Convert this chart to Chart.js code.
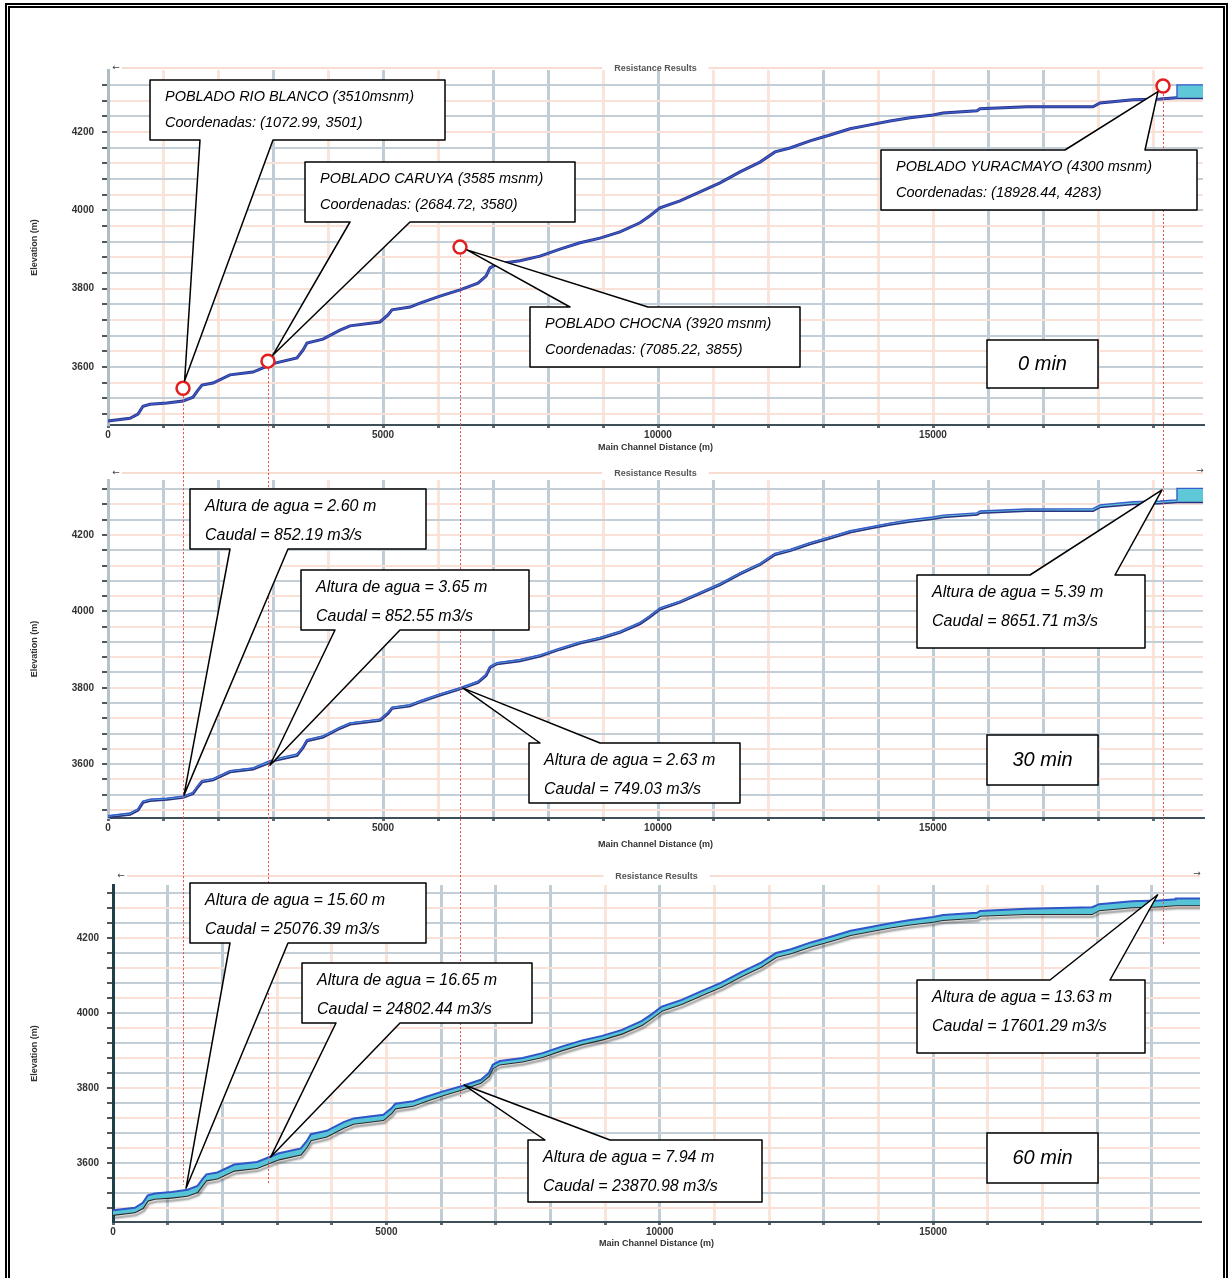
<!DOCTYPE html>
<html><head><meta charset="utf-8">
<script src="https://cdn.jsdelivr.net/npm/chart.js@4.4.1/dist/chart.umd.min.js"></script>
<style>
html,body{margin:0;padding:0;background:#fff;}
#wrap{position:relative;width:1229px;height:1278px;overflow:hidden;background:#fff;}
#wrap canvas{position:absolute;left:0;}
#frame{position:absolute;left:5px;top:3px;width:1213px;height:1300px;border:5px double #000;border-bottom:none;box-sizing:content-box;}
</style></head><body>
<div id="wrap">
<canvas id="c1" width="1229" height="455" style="top:0px"></canvas>
<canvas id="c2" width="1229" height="403" style="top:455px"></canvas>
<canvas id="c3" width="1229" height="420" style="top:858px"></canvas>
<canvas id="ov" width="1229" height="1278" style="top:0px"></canvas>
<div id="frame"></div>
</div>
<script>
// ---------------- DATA ----------------
const distance = [0, 400, 545, 636, 764, 1073, 1364, 1545, 1636, 1709, 1909, 2218, 2636, 2909, 3036, 3436, 3545, 3618, 3909, 4218, 4400, 4945, 5091, 5164, 5491, 5673, 6036, 6400, 6727, 6873, 6945, 7073, 7491, 7855, 8218, 8582, 8945, 9309, 9673, 9855, 10036, 10400, 10764, 11127, 11491, 11855, 12127, 12400, 12764, 13127, 13491, 13855, 14218, 14582, 15000, 15182, 15800, 15855, 16709, 17909, 18036, 18636, 19127, 19436, 19436, 19909];
const bedElev = [3462, 3469, 3480, 3500, 3505, 3508, 3513, 3523, 3541, 3554, 3559, 3580, 3587, 3603, 3610, 3623, 3643, 3661, 3671, 3694, 3705, 3715, 3733, 3746, 3753, 3763, 3781, 3797, 3814, 3832, 3853, 3863, 3871, 3883, 3901, 3917, 3929, 3945, 3968, 3986, 4006, 4024, 4047, 4070, 4098, 4123, 4149, 4159, 4177, 4192, 4208, 4218, 4228, 4236, 4243, 4248, 4254, 4259, 4264, 4264, 4274, 4282, 4284, 4287, 4287, 4287];
const ws0 = [3462, 3469, 3480, 3500, 3505, 3508, 3513, 3523, 3541, 3554, 3559, 3580, 3587, 3603, 3610, 3623, 3643, 3661, 3671, 3694, 3705, 3715, 3733, 3746, 3753, 3763, 3781, 3797, 3814, 3832, 3853, 3863, 3871, 3883, 3901, 3917, 3929, 3945, 3968, 3986, 4006, 4024, 4047, 4070, 4098, 4123, 4149, 4159, 4177, 4192, 4208, 4218, 4228, 4236, 4243, 4248, 4254, 4259, 4264, 4264, 4274, 4282, 4284, 4287, 4320, 4320];
const ws30 = [3465, 3472, 3483, 3503, 3508, 3511, 3516, 3526, 3544, 3557, 3562, 3583, 3590, 3607, 3614, 3627, 3646, 3664, 3674, 3697, 3708, 3718, 3736, 3749, 3756, 3766, 3784, 3800, 3817, 3835, 3856, 3866, 3874, 3886, 3904, 3920, 3932, 3948, 3971, 3989, 4009, 4027, 4050, 4073, 4101, 4126, 4152, 4162, 4180, 4195, 4211, 4221, 4231, 4240, 4247, 4252, 4258, 4263, 4268, 4269, 4279, 4287, 4289, 4292, 4322, 4322];
const ws60 = [3474, 3481, 3494, 3514, 3519, 3523, 3529, 3539, 3557, 3570, 3575, 3596, 3603, 3619, 3626, 3639, 3659, 3677, 3686, 3709, 3719, 3729, 3746, 3758, 3765, 3774, 3791, 3806, 3822, 3840, 3862, 3872, 3880, 3893, 3911, 3927, 3939, 3955, 3979, 3997, 4017, 4035, 4058, 4081, 4109, 4134, 4160, 4170, 4188, 4203, 4219, 4229, 4239, 4248, 4256, 4261, 4267, 4272, 4278, 4282, 4290, 4298, 4300, 4303, 4305, 4305];

const xTickLabels = [0, 5000, 10000, 15000];
const yTickLabels = [3600, 3800, 4000, 4200];

const stationDist = [1364, 2909, 6400, 19182];
const stationElev = [3546, 3615, 3906, 4317];
const stationTitle = ['POBLADO RIO BLANCO (3510msnm)', 'POBLADO CARUYA (3585 msnm)', 'POBLADO CHOCNA (3920 msnm)', 'POBLADO YURACMAYO (4300 msnm)'];
const stationCoords = ['Coordenadas: (1072.99, 3501)', 'Coordenadas: (2684.72, 3580)', 'Coordenadas: (7085.22, 3855)', 'Coordenadas: (18928.44, 4283)'];

const tip30Dist = [1382, 2945, 6455, 19164];
const tip30Elev = [3519, 3597, 3799, 4318];
const depth30 = ['2.60', '3.65', '2.63', '5.39'];
const flow30 = ['852.19', '852.55', '749.03', '8651.71'];

const tip60Dist = [1336, 2883, 6423, 19106];
const tip60Elev = [3533, 3616, 3808, 4315];
const depth60 = ['15.60', '16.65', '7.94', '13.63'];
const flow60 = ['25076.39', '24802.44', '23870.98', '17601.29'];

const timeLabels = ['0 min', '30 min', '60 min'];
const plotTitle = 'Resistance Results';
const xTitle = 'Main Channel Distance (m)';
const yTitle = 'Elevation (m)';

// ---------------- LAYOUT / STYLE ----------------
const BLUE = '#bfcdd7', ORNG = '#fbe4da';
const X_STEP = 1000, Y_STEP = 40;
const panels = [
  {id:'c1', top:0,   H:455, padTop:70, padRight:26, yW:108, xH:30, xTitlePad:2,  xMax:19909, yMin:3452, yMax:4358,
   vpat:'boobobobbobooboobbo'+'o', yBorder:'#aebcc6', ws:ws0, lineColor:'#2c3184', wsColor:'#3a5ccc', fillCol:'#5ec8d8', shadow:false},
  {id:'c2', top:455, H:403, padTop:25, padRight:26, yW:108, xH:40, xTitlePad:8,  xMax:19909, yMin:3459, yMax:4344,
   vpat:'bbbbobobbobbobbbbbbo', yBorder:'#b4c2cb', ws:ws30, lineColor:'#2c3184', wsColor:'#3a5ccc', fillCol:'#5ec8d8', shadow:false},
  {id:'c3', top:858, H:420, padTop:27, padRight:29, yW:113, xH:56, xTitlePad:29, xMax:19880, yMin:3443, yMax:4341,
   vpat:'bbbooobbbobooboboobb', yBorder:'#1f3f49', ws:ws60, lineColor:'#2a2a2a', wsColor:'#2f56c8', fillCol:'#56c4d6', shadow:true}
];

const callouts1 = [
  {box:[150,80,295,60],  side:'bottom', base:[200,273]},
  {box:[305,162,270,60], side:'bottom', base:[350,410]},
  {box:[530,307,270,60], side:'top',    base:[570,648]},
  {box:[881,150,316,60], side:'top',    base:[1065,1145]}
];
const callouts2 = [
  {box:[190,489,236,60], side:'bottom', base:[230,288]},
  {box:[301,570,228,60], side:'bottom', base:[335,400]},
  {box:[529,743,211,60], side:'top',    base:[540,600]},
  {box:[917,575,228,73], side:'top',    base:[1030,1115]}
];
const callouts3 = [
  {box:[190,883,236,60],  side:'bottom', base:[230,288]},
  {box:[302,963,230,60],  side:'bottom', base:[336,400]},
  {box:[528,1140,234,62], side:'top',    base:[545,610]},
  {box:[917,980,228,73],  side:'top',    base:[1050,1110]}
];
const timeBoxes = [[987,340,111,48],[987,735,111,50],[987,1133,111,50]];
const dottedEnd = [1185, 1185, 1097, 945];

function pts(ys){ return distance.map((d,i)=>({x:d, y:ys[i]})); }
function stepTicks(scale, step){
  const t = [];
  const start = Math.ceil(scale.min/step)*step;
  for (let v = start; v <= scale.max; v += step) t.push({value:v});
  scale.ticks = t;
}

const panelPlugin = {
  id:'panelDeco',
  beforeDatasetDraw(chart, args){
    const p = chart.options.plugins.panelDeco;
    if (p.shadow && args.meta.label === 'bed') {
      chart.ctx.save();
      chart.ctx.shadowColor = 'rgba(60,60,60,0.55)';
      chart.ctx.shadowOffsetY = 3; chart.ctx.shadowOffsetX = 1; chart.ctx.shadowBlur = 2;
    }
  },
  afterDatasetDraw(chart, args){
    const p = chart.options.plugins.panelDeco;
    if (p.shadow && args.meta.label === 'bed') chart.ctx.restore();
  },
  afterDraw(chart){
    const ctx = chart.ctx, a = chart.chartArea;
    const y = a.top - (chart.options.plugins.panelDeco.lineOff);
    ctx.save();
    ctx.font = 'bold 9px "Liberation Sans"';
    const tw = ctx.measureText(plotTitle).width;
    const cx = (a.left + a.right)/2;
    ctx.strokeStyle = '#f3b9a3'; ctx.lineWidth = 1.2;
    ctx.beginPath(); ctx.moveTo(a.left + 14, y); ctx.lineTo(cx - tw/2 - 12, y);
    ctx.moveTo(cx + tw/2 + 12, y); ctx.lineTo(a.right, y); ctx.stroke();
    ctx.fillStyle = '#555'; ctx.textAlign = 'center'; ctx.textBaseline = 'middle';
    ctx.fillText(plotTitle, cx, y + 1);
    ctx.font = '9px "DejaVu Sans"'; ctx.fillStyle = '#444';
    ctx.fillText('\u2190', a.left + 8, y);
    if (chart.options.plugins.panelDeco.rightArrow) ctx.fillText('\u2192', a.right - 3, y - 2);
    ctx.restore();
  }
};

const charts = panels.map((p, idx) => {
  const datasets = [];
  if (idx === 0) {
    datasets.push({label:'stations', data: stationDist.map((d,i)=>({x:d, y:stationElev[i]})), showLine:false,
      pointRadius:6.5, pointBorderWidth:2.5, pointBorderColor:'#e31e1e', pointBackgroundColor:'#ffffff'});
  }
  datasets.push({label:'ws', data: pts(p.ws), borderColor:p.wsColor, borderWidth: idx===2?2:1.4, pointRadius:0, tension:0,
    fill:'+1', backgroundColor:p.fillCol});
  datasets.push({label:'bed', data: pts(bedElev), borderColor:p.lineColor, borderWidth: idx===2?2.2:3, pointRadius:0, tension:0, fill:false});
  return new Chart(document.getElementById(p.id), {
    type:'line',
    data:{datasets},
    plugins:[panelPlugin],
    options:{
      responsive:false, animation:false, devicePixelRatio:1,
      layout:{padding:{left:0, right:p.padRight, top:p.padTop, bottom:0}},
      plugins:{legend:{display:false}, tooltip:{enabled:false},
        panelDeco:{shadow:p.shadow, lineOff: idx===0?2:(idx===1?7:9), rightArrow: idx>0}},
      scales:{
        x:{type:'linear', min:0, max:p.xMax,
          afterBuildTicks:s=>stepTicks(s, X_STEP),
          afterFit:s=>{s.height = p.xH;},
          border:{color:'#3f4f5a', width:2},
          grid:{drawOnChartArea:true, lineWidth:3, tickLength:3, tickColor:'#5a6b76',
            color:c=>{ const v=c.tick.value; if (v%1000!==0) return 'rgba(0,0,0,0)'; return p.vpat[v/1000]==='b'?BLUE:ORNG; }},
          ticks:{autoSkip:false, maxRotation:0, padding:1, color:'#333',
            font:{family:'Liberation Sans', size:10, weight:'bold'},
            callback:v=> xTickLabels.includes(v) ? String(v) : ''},
          title:{display:true, text:xTitle, color:'#333', font:{family:'Liberation Sans', size:9, weight:'bold'},
            padding:{top:0, bottom:p.xTitlePad}}
        },
        y:{type:'linear', min:p.yMin, max:p.yMax,
          afterBuildTicks:s=>stepTicks(s, Y_STEP),
          afterFit:s=>{s.width = p.yW;},
          border:{color:p.yBorder, width:3},
          grid:{lineWidth:2, tickLength:6, tickColor:'#555',
            color:c=>{ const v=c.tick.value; return (v%80===0)?'#c3ced6':'#f9e1d7'; }},
          ticks:{autoSkip:false, padding:8, color:'#333',
            font:{family:'Liberation Sans', size:10, weight:'bold'},
            callback:v=> yTickLabels.includes(v) ? String(v) : ''},
          title:{display:true, text:yTitle, color:'#333', font:{family:'Liberation Sans', size:9, weight:'bold'},
            padding:{top:29, bottom:0}}
        }
      }
    }
  });
});

// ---------------- OVERLAY: dotted guides, callouts ----------------
const ov = document.getElementById('ov').getContext('2d');
function px(ci, d, e){
  const ch = charts[ci];
  return {x: ch.scales.x.getPixelForValue(d), y: ch.scales.y.getPixelForValue(e) + panels[ci].top};
}
ov.save();
ov.strokeStyle = '#e8484a'; ov.lineWidth = 1; ov.setLineDash([2,2]);
stationDist.forEach((d,i)=>{
  const p = px(0, d, stationElev[i]);
  ov.beginPath(); ov.moveTo(Math.round(p.x)+0.5, p.y + 8); ov.lineTo(Math.round(p.x)+0.5, dottedEnd[i]); ov.stroke();
});
ov.restore();

function callout(c, tip, lines, font, offs, shrink){
  const [x,y,w,h] = c.box; const [b1,b2] = c.base;
  let t = {x:tip.x, y:tip.y};
  if (shrink) {
    const mx = (b1+b2)/2, my = c.side==='bottom' ? y+h : y;
    const dx = mx - t.x, dy = my - t.y, L = Math.hypot(dx,dy);
    t = {x: t.x + dx/L*shrink, y: t.y + dy/L*shrink};
  }
  ov.save();
  ov.beginPath();
  if (c.side === 'bottom') {
    ov.moveTo(x,y); ov.lineTo(x+w,y); ov.lineTo(x+w,y+h); ov.lineTo(b2,y+h); ov.lineTo(t.x,t.y); ov.lineTo(b1,y+h); ov.lineTo(x,y+h); ov.closePath();
  } else {
    ov.moveTo(x,y); ov.lineTo(b1,y); ov.lineTo(t.x,t.y); ov.lineTo(b2,y); ov.lineTo(x+w,y); ov.lineTo(x+w,y+h); ov.lineTo(x,y+h); ov.closePath();
  }
  ov.fillStyle = '#fff'; ov.fill();
  ov.lineJoin = 'round'; ov.lineWidth = 1.5; ov.strokeStyle = '#000'; ov.stroke();
  ov.fillStyle = '#000'; ov.font = font; ov.textAlign = 'left'; ov.textBaseline = 'middle';
  ov.fillText(lines[0], x + 15, y + offs[0]);
  ov.fillText(lines[1], x + 15, y + offs[1]);
  ov.restore();
}

callouts1.forEach((c,i)=>{
  callout(c, px(0, stationDist[i], stationElev[i]), [stationTitle[i], stationCoords[i]], 'italic 14.5px "Liberation Sans"', [17,43], 7.5);
});
callouts2.forEach((c,i)=>{
  callout(c, px(1, tip30Dist[i], tip30Elev[i]), ['Altura de agua = ' + depth30[i] + ' m', 'Caudal = ' + flow30[i] + ' m3/s'], 'italic 16px "Liberation Sans"', [18,47], 0);
});
callouts3.forEach((c,i)=>{
  callout(c, px(2, tip60Dist[i], tip60Elev[i]), ['Altura de agua = ' + depth60[i] + ' m', 'Caudal = ' + flow60[i] + ' m3/s'], 'italic 16px "Liberation Sans"', [18,47], 0);
});
timeBoxes.forEach((b,i)=>{
  const [x,y,w,h] = b;
  ov.save();
  ov.fillStyle = '#fff'; ov.fillRect(x,y,w,h);
  ov.lineWidth = 1.5; ov.strokeStyle = '#000'; ov.strokeRect(x,y,w,h);
  ov.fillStyle = '#000'; ov.font = 'italic 20px "Liberation Sans"'; ov.textAlign = 'center'; ov.textBaseline = 'middle';
  ov.fillText(timeLabels[i], x + w/2, y + h/2);
  ov.restore();
});
</script>
</body></html>
